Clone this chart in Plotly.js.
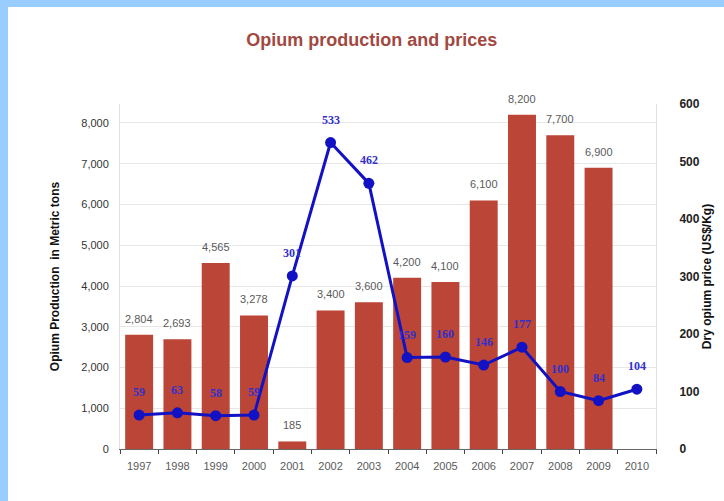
<!DOCTYPE html>
<html>
<head>
<meta charset="utf-8">
<script src="https://cdn.plot.ly/plotly-3.0.1.min.js"></script>
<style>
  html, body { margin: 0; padding: 0; background: #99ccff; width: 724px; height: 501px; overflow: hidden; }
  #chart { position: absolute; left: 8px; top: 7px; width: 716px; height: 494px; background: #ffffff; }
</style>
</head>
<body>
<div id="chart"></div>
<script>
var years = [1997, 1998, 1999, 2000, 2001, 2002, 2003, 2004, 2005, 2006, 2007, 2008, 2009, 2010];
var yearLabels = ['1997','1998','1999','2000','2001','2002','2003','2004','2005','2006','2007','2008','2009','2010'];
var production = [2804, 2693, 4565, 3278, 185, 3400, 3600, 4200, 4100, 6100, 8200, 7700, 6900, null];
var productionLabels = ['2,804','2,693','4,565','3,278','185','3,400','3,600','4,200','4,100','6,100','8,200','7,700','6,900',''];
var prices = [59, 63, 58, 59, 301, 533, 462, 159, 160, 146, 177, 100, 84, 104];
var leftTicks = [0,1000,2000,3000,4000,5000,6000,7000,8000];
var leftTickText = ['0','1,000','2,000','3,000','4,000','5,000','6,000','7,000','8,000'];
var rightTicks = [0,100,200,300,400,500,600];

var bars = {
  type: 'bar', x: years, y: production, yaxis: 'y', width: 0.73,
  marker: { color: '#bb4536' }, hoverinfo: 'x+y', showlegend: false
};
var line = {
  type: 'scatter', mode: 'lines+markers', x: years, y: prices, yaxis: 'y2',
  line: { color: '#1212c4', width: 3 },
  marker: { color: '#1212c4', size: 11 }, showlegend: false
};

var annotations = [];
years.forEach(function (yr, i) {
  if (production[i] !== null) {
    annotations.push({
      x: yr, y: production[i], xref: 'x', yref: 'y', text: productionLabels[i],
      showarrow: false, yanchor: 'middle', yshift: 16,
      font: { family: 'Arial, Liberation Sans, sans-serif', size: 11, color: '#5a5a5a' }
    });
  }
  annotations.push({
    x: yr, y: prices[i], xref: 'x', yref: 'y2', text: String(prices[i]),
    showarrow: false, yanchor: 'middle', yshift: 23,
    font: { family: 'Times New Roman, Liberation Serif, serif', size: 12, color: '#3030cc', weight: 'bold' }
  });
});

var layout = {
  width: 716, height: 494,
  margin: { l: 112, r: 68, t: 97, b: 52 },
  paper_bgcolor: '#ffffff', plot_bgcolor: '#ffffff',
  title: {
    text: '<b>Opium production and prices</b>',
    font: { family: 'Arial, Liberation Sans, sans-serif', size: 18, color: '#a2483f' },
    x: 0.508, xref: 'container', xanchor: 'center',
    y: 0.933, yref: 'container', yanchor: 'middle'
  },
  xaxis: {
    type: 'linear', range: [1996.5, 2010.5],
    tickvals: years, ticktext: yearLabels, ticks: '',
    ticklabelstandoff: 7,
    minor: { tick0: 1996.5, dtick: 1, ticks: 'outside', ticklen: 4, tickcolor: '#444444', showgrid: false },
    showline: true, linecolor: '#666666', linewidth: 1,
    tickfont: { family: 'Arial, Liberation Sans, sans-serif', size: 11, color: '#5a5a5a' },
    showgrid: false, zeroline: false
  },
  yaxis: {
    range: [0, 8466], tickvals: leftTicks, ticktext: leftTickText,
    showgrid: true, gridcolor: '#e6e6e6', zeroline: false,
    showline: true, linecolor: '#e0e0e0',
    ticklabelstandoff: 8,
    tickfont: { family: 'Arial, Liberation Sans, sans-serif', size: 11, color: '#333333' },
    title: {
      text: '<b>Opium Production  in Metric tons</b>', standoff: 19,
      font: { family: 'Arial, Liberation Sans, sans-serif', size: 12, color: '#111111' }
    }
  },
  yaxis2: {
    overlaying: 'y', side: 'right', range: [0, 600], tickvals: rightTicks,
    showgrid: false, zeroline: false, showline: true, linecolor: '#e0e0e0',
    ticklabelstandoff: 20,
    tickfont: { family: 'Arial, Liberation Sans, sans-serif', size: 12, color: '#222222', weight: 'bold' },
    title: {
      text: '<b>Dry opium price (US$/Kg)</b>', standoff: 0,
      font: { family: 'Arial, Liberation Sans, sans-serif', size: 12, color: '#111111' }
    }
  },
  annotations: annotations
};

Plotly.newPlot('chart', [bars, line], layout, { displayModeBar: false, staticPlot: true });
</script>
</body>
</html>
